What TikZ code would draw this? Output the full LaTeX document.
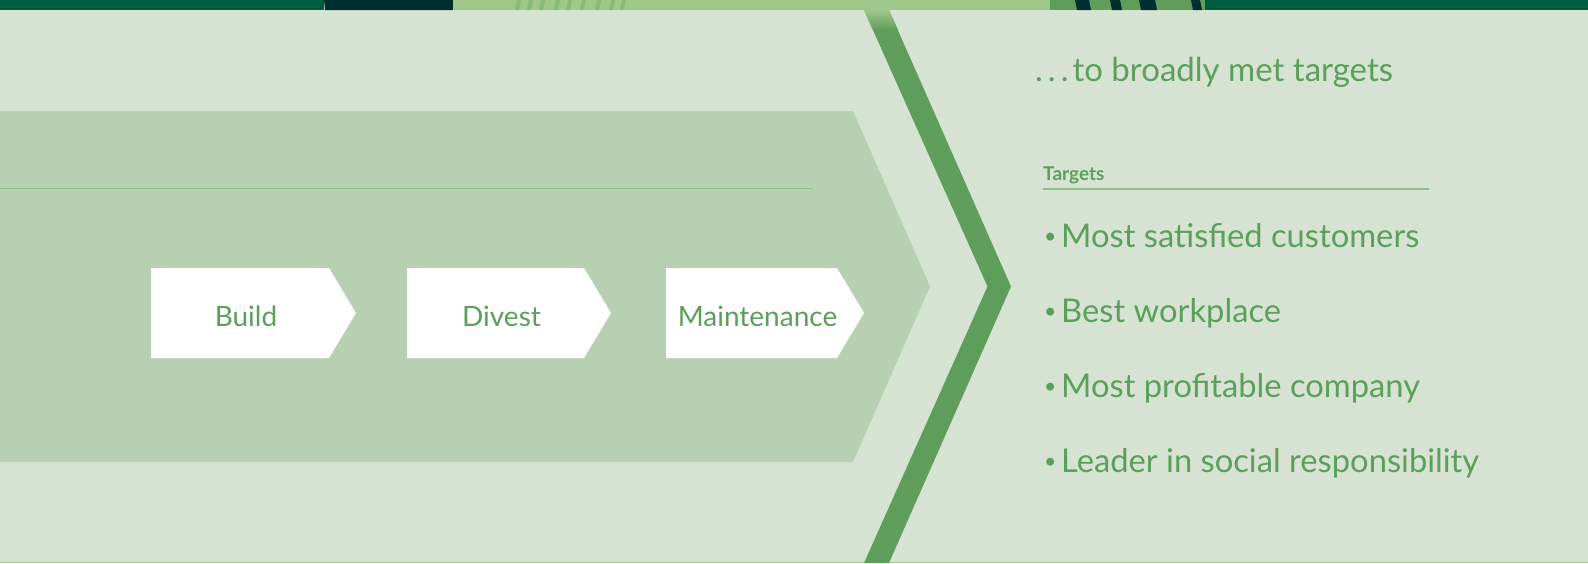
\documentclass[tikz,border=0pt]{standalone}
\usepackage{fontspec}
\setmainfont{Lato}
\usetikzlibrary{calc}

\definecolor{bgpale}{HTML}{D7E3D2}
\definecolor{chevfill}{HTML}{B7D0B2}
\definecolor{bandgreen}{HTML}{5F9E5A}
\definecolor{txtgreen}{HTML}{5A9F5A}
\definecolor{rulegreen}{HTML}{8DBF88}
\definecolor{edgegreen}{HTML}{A8CBA0}
\definecolor{topdark}{HTML}{005A3C}
\definecolor{topnavy}{HTML}{002E30}
\definecolor{toplight}{HTML}{9DC88A}
\definecolor{topstripe}{HTML}{86BB74}
\definecolor{topmid}{HTML}{5F9E5A}

\newcommand\itembullet{\makebox[17pt][l]{\raisebox{3.8pt}{\scalebox{0.65}{•}}}}

\tikzset{
  heading/.style={anchor=base west, inner sep=0pt, text=txtgreen, font=\fontsize{33}{38}\selectfont},
  smallhead/.style={anchor=base west, inner sep=0pt, text=txtgreen, font=\bfseries\fontsize{19}{23}\selectfont},
  item/.style={anchor=base west, inner sep=0pt, text=txtgreen, font=\fontsize{32.7}{40}\selectfont},
  steplabel/.style={anchor=base, inner sep=0pt, text=txtgreen, font=\fontsize{28}{34}\selectfont},
  rule/.style={draw=rulegreen, line width=1.5pt},
}

\begin{document}
\begin{tikzpicture}[x=1pt,y=-1pt]
\useasboundingbox (0,0) rectangle (1588,563);
% background
\fill[bgpale] (0,0) rectangle (1588,563);
\coordinate (baseL) at (0,562.5);
\coordinate (baseR) at (1588,562.5);
\draw[edgegreen, line width=1pt] (baseL) -- (baseR);

% large pale chevron
\fill[chevfill] (0,111) -- (853,111) -- (930,286.5) -- (853,462) -- (0,462) -- cycle;

% green chevron band
\fill[bandgreen] (864,10) -- (889,10) -- (1011,286.5) -- (889,563) -- (864,563) -- (987.5,286.5) -- cycle;
\shade[top color=toplight, bottom color=bandgreen] (864,10) -- (889,10) -- (898,30) -- (873,30) -- cycle;

% rules
\coordinate (lruleA) at (0,188.5);
\coordinate (lruleB) at (813,188.5);
\draw[rule] (lruleA) -- (lruleB);
\coordinate (truleA) at (1043,189);
\coordinate (truleB) at (1429,189);
\draw[rule] (truleA) -- (truleB);

% process steps
\foreach \l/\r/\nm/\txt in {151/329/build/Build, 407/584/divest/Divest, 666/837/maint/Maintenance} {
  \fill[white] (\l,268) -- (\r,268) -- ({\r+27},313) -- (\r,358) -- (\l,358) -- cycle;
  \node[steplabel] (\nm) at ({(\l+\r)/2+6},326) {\txt};
}

% right column texts
\node[heading] (title) at (1035,81) {.\hspace{5pt}.\hspace{5pt}.\hspace{4pt}to broadly met targets};
\node[smallhead] (targets) at (1043,180.7) {Targets};
\node[item] (t1) at (1044,247.3) {\itembullet Most satisfied customers};
\node[item] (t2) at (1044,322.5) {\itembullet Best workplace};
\node[item] (t3) at (1044,397.5) {\itembullet Most profitable company};
\node[item] (t4) at (1044,472.5) {\itembullet Leader in social responsibility};

% top colour strip
\fill[topdark] (0,0) rectangle (324,10);
\fill[topnavy] (324,0) -- (453,0) -- (453,10) -- (325,10) -- cycle;
\fill[toplight] (453,0) rectangle (1050,10);
\foreach \x in {517,529,541,556,568,582,597,611,622}
  \fill[topstripe] (\x,0) -- ({\x+4},0) -- ({\x+2},10) -- ({\x-2},10) -- cycle;
\fill[topmid] (1050,0) rectangle (1205,10);
\foreach \a/\b in {1075/1089,1110/1120,1139/1155,1191/1200}
  \fill[topnavy] (\a,0) -- (\b,0) -- ({\b+2},10) -- ({\a+2},10) -- cycle;
\fill[topdark] (1205,0) rectangle (1588,10);
\end{tikzpicture}
\end{document}
